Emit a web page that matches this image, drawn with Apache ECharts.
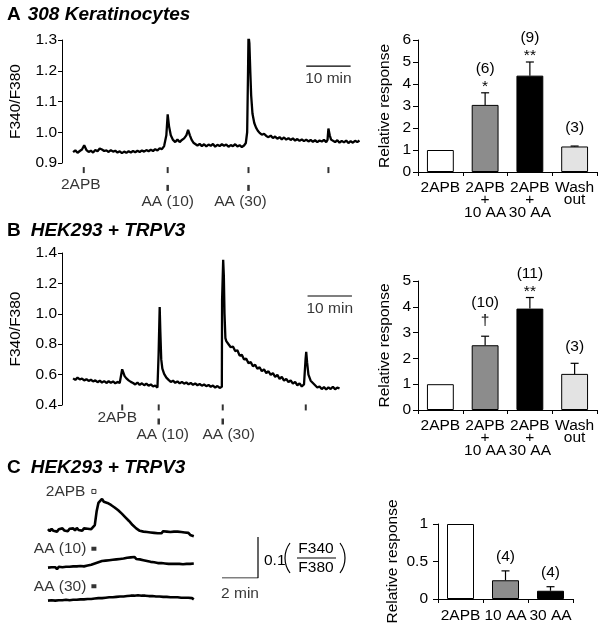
<!DOCTYPE html>
<html><head><meta charset="utf-8">
<script src="https://cdn.jsdelivr.net/npm/echarts/dist/echarts.min.js"></script>
<style>html,body{margin:0;padding:0;background:#fff;}#c{width:602px;height:631px;}</style>
</head><body><div id="c"></div>
<script>
// ================= DATA =================
// Bar charts
const barCatsAB = ['2APB', '2APB\n+\n10 AA', '2APB\n+\n30 AA', 'Wash\nout'];
const barCatsC = ['2APB', '10 AA', '30 AA'];
const meanA = [1.0, 3.05, 4.38, 1.16];
const semA  = [0, 0.55, 0.62, 0.02];
const nA    = ['', '(6)', '(9)', '(3)'];
const sigA  = ['', '*', '**', ''];
const meanB = [1.0, 2.51, 3.93, 1.40];
const semB  = [0, 0.35, 0.43, 0.41];
const nB    = ['', '(10)', '(11)', '(3)'];
const sigB  = ['', '\u2020', '**', ''];
const meanC = [1.0, 0.25, 0.11];
const semC  = [0, 0.125, 0.054];
const nC    = ['', '(4)', '(4)'];
const sigC  = ['', '', ''];

// Drug application marks (minutes)
const eventsA  = [4.9, 23.8, 42.0, 60.0];
const eventsA2 = [23.8, 42.0];
const eventsB  = [13.56, 21.78, 36.2, 54.9];
const eventsB2 = [21.78, 36.2];
const eventLabels = ['2APB', 'AA (10)', 'AA (30)'];
const scaleBarMin = 10;      // "10 min"
const scaleBarMinC = 2;      // "2 min"
const scaleBarRatioC = 0.1;  // 0.1 (F340/F380)
const stimTimeC = 2.55;
const stimLabelsC = ['2APB', 'AA (10)', 'AA (30)'];

// Trace A (F340/F380), time in min; sampled every 0.5 min on baselines
const A_base1 = [0.935,0.941,0.933,0.939,0.944,0.958,0.942,0.936,0.940,0.934,
  0.942,0.938,0.947,0.944,0.939,0.941,0.936,0.942,0.937,0.940,
  0.934,0.938,0.932,0.937,0.933,0.938,0.934,0.939,0.935,0.940,
  0.936,0.941,0.937,0.942,0.938,0.943,0.939,0.945,0.941,0.948]; // t 2.5..22.0
const A_spike1 = [[22.5,0.945],[23,0.955],[23.5,0.990],[23.8,1.058],[24.1,1.02],[24.5,0.99],[25,0.975],
  [25.5,0.968],[26,0.976],[26.5,0.968],[27,0.975],[27.5,0.980],[28,0.990],[28.4,1.008],[28.8,0.99],
  [29.2,0.975],[29.6,0.966],[30,0.962]];
const A_base2 = [0.957,0.962,0.955,0.961,0.954,0.960,0.956,0.962,0.953,0.959,0.955,
  0.961,0.956,0.960,0.953,0.958,0.955,0.961,0.954,0.958,0.952,0.957]; // t 30.5..41.0
const A_spike2 = [[41.4,0.965],[41.7,1.0],[41.9,1.2],[42.0,1.315],[42.2,1.29],[42.4,1.2],[42.6,1.12],
  [42.9,1.06],[43.3,1.03],[43.7,1.015],[44.1,1.005],[44.5,0.998],[45,0.992],[45.5,0.995],[46,0.988]];
const A_base3 = [0.984,0.989,0.981,0.986,0.979,0.984,0.977,0.983,0.976,0.981,
  0.975,0.980,0.973,0.978,0.972,0.977,0.971,0.976,0.970,0.975,
  0.969,0.974,0.968,0.973,0.970,0.975,0.968]; // t 46.5..59.5
const A_spike3 = [[59.8,0.975],[60,1.012],[60.3,0.99],[60.6,0.976],[61,0.971]];
const A_base4 = [0.968,0.974,0.966,0.972,0.967,0.973,0.965,0.971,0.966,0.972,0.968,0.973]; // t 61.5..67

// Trace B
const B_base1 = [0.575,0.565,0.58,0.568,0.574,0.562,0.57,0.558,0.566,0.555,0.562,
  0.55,0.56,0.548,0.557,0.545,0.556,0.546,0.555,0.543,0.552,0.545]; // t 2.5..13
const B_spike1 = [[13.3,0.55],[13.55,0.635],[13.8,0.615],[14.1,0.59],[14.5,0.575],[15,0.562],[15.5,0.552]];
const B_base2 = [0.545,0.535,0.548,0.532,0.543,0.53,0.54,0.527,0.535,0.522,0.528,0.515]; // t 16..21.5
const B_spike2 = [[21.7,0.52],[21.75,0.73],[21.85,0.74],[22.0,1.045],[22.15,0.88],[22.35,0.70],
  [22.6,0.64],[23.0,0.605],[23.5,0.58],[24,0.565]];
const B_base3 = [0.552,0.56,0.546,0.555,0.542,0.552,0.54,0.548,0.536,0.545,0.533,0.542,
  0.53,0.538,0.527,0.535,0.524,0.532,0.52,0.528,0.515,0.525,0.512]; // t 24.5..35.5
const B_spike3 = [[35.8,0.515],[36.0,0.52],[36.05,1.09],[36.3,1.355],[36.45,1.25],[36.6,1.0],[36.8,0.84],[37.0,0.82]];
const B_decay = [0.80,0.78,0.785,0.755,0.76,0.725,0.73,0.70,0.705,0.675,0.682,0.655,0.665,0.638,
  0.648,0.622,0.635,0.61,0.622,0.598,0.61,0.585,0.598,0.572,0.585,0.56,0.572,0.55,0.562,
  0.54,0.552,0.53,0.542,0.522,0.535]; // t 37.5..54.5
const B_spike4 = [[54.75,0.525],[54.85,0.70],[55.0,0.75],[55.2,0.68],[55.5,0.6],[56,0.56],[56.5,0.545],[57,0.53]];
const B_base5 = [0.515,0.522,0.505,0.518,0.502,0.516,0.505,0.52,0.503,0.515,0.508]; // t 57.5..62.5

// Panel C traces: change of F340/F380 from baseline, every 0.1 min from t = 0
const C_2apb = [0.002,-0.003,0.003,-0.002,0.001,-0.004,0.002,-0.002,0.004,-0.001,
  0.002,-0.003,0.003,0.000,0.004,-0.001,0.005,0.000,0.003,-0.002,
  0.004,0.000,0.003,-0.001,0.002,0.001,0.012,0.045,0.066,0.071,
  0.076,0.069,0.073,0.066,0.068,0.061,0.062,0.055,0.056,0.048,
  0.047,0.040,0.039,0.031,0.030,0.022,0.020,0.012,0.011,0.004,
  0.005,-0.002,0.001,-0.004,0.000,-0.005,-0.001,-0.006,-0.002,-0.007,
  -0.003,-0.008,-0.004,-0.008,-0.003,-0.007,-0.004,-0.008,-0.005,-0.009,
  -0.004,-0.007,-0.004,-0.008,-0.005,-0.009,-0.006,-0.010,-0.007,-0.012,
  -0.010,-0.015];
const C_aa10 = [0.001,-0.003,0.002,-0.002,0.002,-0.003,0.003,-0.001,0.002,-0.002,
  0.003,0.000,0.003,-0.001,0.004,0.000,0.004,0.001,0.005,0.001,
  0.004,0.002,0.006,0.003,0.008,0.006,0.011,0.009,0.014,0.012,
  0.017,0.014,0.018,0.015,0.019,0.016,0.020,0.017,0.021,0.018,
  0.022,0.019,0.023,0.020,0.025,0.021,0.026,0.022,0.027,0.022,
  0.025,0.021,0.024,0.019,0.022,0.017,0.020,0.015,0.018,0.014,
  0.017,0.012,0.016,0.012,0.015,0.011,0.014,0.010,0.014,0.010,
  0.013,0.010,0.014,0.010,0.013,0.009,0.013,0.010,0.014,0.010,
  0.013,0.011];
const C_aa30 = [0.001,-0.003,0.002,-0.002,0.001,-0.003,0.002,-0.002,0.002,-0.002,
  0.003,-0.001,0.002,-0.002,0.003,-0.001,0.003,0.000,0.004,0.000,
  0.004,0.001,0.005,0.001,0.005,0.002,0.006,0.002,0.007,0.003,
  0.007,0.004,0.008,0.004,0.009,0.005,0.009,0.006,0.010,0.006,
  0.011,0.007,0.011,0.008,0.012,0.008,0.013,0.009,0.013,0.009,
  0.014,0.010,0.013,0.009,0.013,0.009,0.012,0.008,0.012,0.008,
  0.011,0.007,0.011,0.007,0.010,0.006,0.010,0.006,0.009,0.005,
  0.009,0.005,0.009,0.005,0.008,0.004,0.008,0.004,0.008,0.004,
  0.007,0.004];

// ================= BUILD =================
function seq(t0, dt, vals) { return vals.map((v, i) => [Math.round((t0 + i * dt) * 1000) / 1000, v]); }
const traceA = [].concat(seq(2.5, 0.5, A_base1), A_spike1, seq(30.5, 0.5, A_base2), A_spike2,
  seq(46.5, 0.5, A_base3), A_spike3, seq(61.5, 0.5, A_base4));
const traceB = [].concat(seq(2.5, 0.5, B_base1), B_spike1, seq(16, 0.5, B_base2), B_spike2,
  seq(24.5, 0.5, B_base3), B_spike3, seq(37.5, 0.5, B_decay), B_spike4, seq(57.5, 0.5, B_base5));
const traceC = [C_2apb, C_aa10, C_aa30].map(v => seq(0, 0.1, v));

const FONT = '"Liberation Sans", Arial, Helvetica, sans-serif';
const INK = '#000';
const T = { fontFamily: FONT, fontSize: 15.5, color: INK };
const barFillAB = ['#ffffff', '#8c8c8c', '#000000', '#e3e3e3'];
const barFillC = ['#ffffff', '#8c8c8c', '#000000'];

function hiddenX(g, min, max) { return { gridIndex: g, type: 'value', min, max, show: false }; }
function hiddenY(g, min, max) { return { gridIndex: g, type: 'value', min, max, show: false }; }
function traceY(g, min, max, interval) {
  return { gridIndex: g, type: 'value', min, max, interval, name: 'F340/F380', nameLocation: 'middle', nameGap: 38,
    nameTextStyle: T, axisLine: { show: true, lineStyle: { color: '#000', width: 1 } },
    axisTick: { show: true, length: 4, lineStyle: { color: '#000' } },
    axisLabel: Object.assign({ margin: 5, formatter: v => v.toFixed(1) }, T), splitLine: { show: false } };
}
function barY(g, max, interval, gap, margin) {
  return { gridIndex: g, type: 'value', min: 0, max, interval, name: 'Relative response', nameLocation: 'middle', nameGap: gap,
    nameTextStyle: T, axisLine: { show: true, lineStyle: { color: '#000', width: 1 } },
    axisTick: { show: true, length: 5, lineStyle: { color: '#000' } },
    axisLabel: Object.assign({ margin }, T), splitLine: { show: false } };
}
function barX(g, cats, margin) {
  return { gridIndex: g, type: 'category', data: cats, axisLine: { show: true, lineStyle: { color: '#000', width: 1 } },
    axisTick: { show: true, length: 4, lineStyle: { color: '#000' } },
    axisLabel: Object.assign({ interval: 0, margin, lineHeight: 12.5 }, T), splitLine: { show: false } };
}
function traceSeries(ax, data, w) {
  return { type: 'line', xAxisIndex: ax, yAxisIndex: ax, data, showSymbol: false, symbol: 'none',
    lineStyle: { color: '#000', width: w }, silent: true, animation: false, z: 3 };
}
function eventSeries(ax, times, y, size, labels, offsets) {
  return { type: 'scatter', xAxisIndex: ax, yAxisIndex: ax, clip: false, symbol: 'rect', symbolSize: size,
    itemStyle: { color: '#000' }, silent: true, animation: false,
    data: times.map((t, i) => ({ value: [t, y], label: labels[i] ? Object.assign({ show: true, position: 'inside',
      offset: offsets[i], formatter: labels[i] }, T) : { show: false } })) };
}
function textEl(s, x, y) {
  return { type: 'text', style: { text: s, x, y, align: 'center', verticalAlign: 'middle', fontSize: 15.5, fontFamily: FONT, fill: INK } };
}
function errSeries(ax, means, sems, ns, sigs, noSigOff) {
  return { type: 'custom', xAxisIndex: ax, yAxisIndex: ax, silent: true, animation: false, z: 10,
    data: means.map((m, i) => [i, m, m + sems[i]]),
    renderItem: function (params, api) {
      const i = api.value(0), m = api.value(1), top = api.value(2);
      const p0 = api.coord([i, m]), p1 = api.coord([i, top]);
      const ch = [];
      if (top > m) {
        ch.push({ type: 'line', shape: { x1: p0[0], y1: p0[1], x2: p1[0], y2: p1[1] }, style: { stroke: '#000', lineWidth: 1.2 } });
        ch.push({ type: 'line', shape: { x1: p1[0] - 4, y1: p1[1], x2: p1[0] + 4, y2: p1[1] }, style: { stroke: '#000', lineWidth: 1.2 } });
      }
      const sig = sigs[i], n = ns[i];
      let off = noSigOff;
      if (sig) {
        const dagger = sig === '\u2020';
        ch.push(textEl(sig, p1[0], p1[1] - (dagger ? 15 : 6)));
        off = dagger ? 33 : 24;
      }
      if (n) ch.push(textEl(n, p1[0], p1[1] - off));
      return { type: 'group', children: ch };
    } };
}
function barSeries(ax, means, fills) {
  return { type: 'bar', xAxisIndex: ax, yAxisIndex: ax, barWidth: '60%', silent: true, animation: false,
    itemStyle: { borderColor: '#000', borderWidth: 1 },
    data: means.map((v, i) => ({ value: v, itemStyle: { color: fills[i], borderColor: '#000', borderWidth: 1 } })) };
}
function labelPoint(ax, pt, text, pos, dist) {
  return { type: 'scatter', xAxisIndex: ax, yAxisIndex: ax, clip: false, symbolSize: 1, silent: true, animation: false,
    itemStyle: { color: 'rgba(0,0,0,0)' },
    data: [{ value: pt, label: Object.assign({ show: true, position: pos, distance: dist, formatter: text }, T) }] };
}

const titleRich = (gap) => ({
  a: { fontSize: 19, fontWeight: 'bold', fontFamily: FONT, color: INK, padding: [0, gap, 0, 0] },
  b: { fontSize: 19, fontWeight: 'bold', fontStyle: 'italic', fontFamily: FONT, color: INK } });

const option = {
  backgroundColor: '#fff',
  animation: false,
  title: [
    { left: 7, top: 5, padding: 0, text: '{a|A}{b|308 Keratinocytes}', textStyle: { rich: titleRich(7) } },
    { left: 7, top: 221.5, padding: 0, text: '{a|B}{b|HEK293 + TRPV3}', textStyle: { rich: titleRich(10) } },
    { left: 7, top: 458.5, padding: 0, text: '{a|C}{b|HEK293 + TRPV3}', textStyle: { rich: titleRich(10) } }
  ],
  grid: [
    { left: 58, top: 40, width: 301.5, height: 123 },      // 0 A trace
    { left: 418, top: 40, width: 179, height: 132 },       // 1 A bars
    { left: 58, top: 253, width: 301.5, height: 152 },     // 2 B trace
    { left: 418, top: 281, width: 179, height: 129 },      // 3 B bars
    { left: 48, top: 497.2, width: 147.6, height: 41 },    // 4 C 2APB
    { left: 48, top: 535.2, width: 147.6, height: 41 },    // 5 C AA10
    { left: 48, top: 568.2, width: 147.6, height: 41 },    // 6 C AA30
    { left: 222, top: 537, width: 36, height: 41 },        // 7 C scale bar
    { left: 438, top: 524, width: 135, height: 75 }        // 8 C bars
  ],
  xAxis: [
    hiddenX(0, 0, 67), barX(1, barCatsAB, 9), hiddenX(2, 0, 67), barX(3, barCatsAB, 9),
    hiddenX(4, 0, 8.2), hiddenX(5, 0, 8.2), hiddenX(6, 0, 8.2), hiddenX(7, 0, scaleBarMinC), barX(8, barCatsC, 10)
  ],
  yAxis: [
    traceY(0, 0.9, 1.3, 0.1), barY(1, 6, 1, 25, 7), traceY(2, 0.4, 1.4, 0.2), barY(3, 5, 1, 25, 7),
    hiddenY(4, -0.02, 0.08), hiddenY(5, -0.02, 0.08), hiddenY(6, -0.02, 0.08), hiddenY(7, 0, scaleBarRatioC),
    barY(8, 1, 0.5, 37, 10)
  ],
  series: [
    // Panel A
    traceSeries(0, traceA, 2.3),
    eventSeries(0, eventsA, 0.877, [2, 6], [eventLabels[0], '', '', ''], [[-3, 15], [0, 0], [0, 0], [0, 0]]),
    eventSeries(0, eventsA2, 0.819, [2.5, 6], [eventLabels[1], eventLabels[2]], [[0, 14], [-8, 14]]),
    { type: 'line', xAxisIndex: 0, yAxisIndex: 0, data: [[55, 1.215], [55 + scaleBarMin, 1.215]], symbol: 'none',
      lineStyle: { color: '#000', width: 1.2 }, silent: true, animation: false },
    labelPoint(0, [55 + scaleBarMin / 2, 1.215], scaleBarMin + ' min', 'bottom', 4),
    barSeries(1, meanA, barFillAB),
    errSeries(1, meanA, semA, nA, sigA, 18),
    // Panel B
    traceSeries(2, traceB, 2.3),
    eventSeries(2, eventsB, 0.384, [2, 6], [eventLabels[0], '', '', ''], [[-5, 10], [0, 0], [0, 0], [0, 0]]),
    eventSeries(2, eventsB2, 0.2914, [2.5, 6], [eventLabels[1], eventLabels[2]], [[4, 13.5], [6, 13.5]]),
    { type: 'line', xAxisIndex: 2, yAxisIndex: 2, data: [[55.3, 1.117], [55.3 + scaleBarMin, 1.117]], symbol: 'none',
      lineStyle: { color: '#000', width: 1.2 }, silent: true, animation: false },
    labelPoint(2, [55.3 + scaleBarMin / 2, 1.117], scaleBarMin + ' min', 'bottom', 4),
    barSeries(3, meanB, barFillAB),
    errSeries(3, meanB, semB, nB, sigB, 17),
    // Panel C traces
    traceSeries(4, traceC[0], 2.6), traceSeries(5, traceC[1], 2.6), traceSeries(6, traceC[2], 2.6),
    { type: 'scatter', xAxisIndex: 4, yAxisIndex: 4, clip: false, symbol: 'rect', symbolSize: [4, 4], silent: true, animation: false,
      itemStyle: { color: '#fff', borderColor: '#000', borderWidth: 1 },
      data: [{ value: [stimTimeC, 0.094], label: Object.assign({ show: true, position: 'left', distance: 6, formatter: stimLabelsC[0] }, T) }] },
    { type: 'scatter', xAxisIndex: 5, yAxisIndex: 5, clip: false, symbol: 'rect', symbolSize: [5, 4], silent: true, animation: false,
      itemStyle: { color: '#000' },
      data: [{ value: [stimTimeC, 0.047], label: Object.assign({ show: true, position: 'left', distance: 5, formatter: stimLabelsC[1] }, T) }] },
    { type: 'scatter', xAxisIndex: 6, yAxisIndex: 6, clip: false, symbol: 'rect', symbolSize: [5, 4], silent: true, animation: false,
      itemStyle: { color: '#000' },
      data: [{ value: [stimTimeC, 0.036], label: Object.assign({ show: true, position: 'left', distance: 5, formatter: stimLabelsC[2] }, T) }] },
    { type: 'line', xAxisIndex: 7, yAxisIndex: 7, data: [[0, 0], [scaleBarMinC, 0], [scaleBarMinC, scaleBarRatioC]], symbol: 'none',
      lineStyle: { color: '#000', width: 1.2 }, silent: true, animation: false },
    labelPoint(7, [scaleBarMinC / 2, 0], scaleBarMinC + ' min', 'bottom', 7),
    barSeries(8, meanC, barFillC),
    errSeries(8, meanC, semC, nC, sigC, 14)
  ],
  graphic: [
    { type: 'text', x: 264, y: 561, style: { text: String(scaleBarRatioC), fontSize: 15.5, fontFamily: FONT, fill: INK, align: 'left', verticalAlign: 'middle' } },
    { type: 'arc', shape: { cx: 310, cy: 558, r: 25, startAngle: Math.PI * 0.795, endAngle: Math.PI * 1.205 }, style: { stroke: '#000', lineWidth: 1.2, fill: 'none' } },
    { type: 'arc', shape: { cx: 320, cy: 558, r: 25, startAngle: -Math.PI * 0.205, endAngle: Math.PI * 0.205 }, style: { stroke: '#000', lineWidth: 1.2, fill: 'none' } },
    { type: 'text', x: 316, y: 549, style: { text: 'F340', fontSize: 15.5, fontFamily: FONT, fill: INK, align: 'center', verticalAlign: 'middle' } },
    { type: 'line', shape: { x1: 297, y1: 558, x2: 336, y2: 558 }, style: { stroke: '#000', lineWidth: 1.2 } },
    { type: 'text', x: 316, y: 568, style: { text: 'F380', fontSize: 15.5, fontFamily: FONT, fill: INK, align: 'center', verticalAlign: 'middle' } }
  ]
};
const chart = echarts.init(document.getElementById('c'), null, { renderer: 'canvas' });
chart.setOption(option);
</script>
</body></html>
